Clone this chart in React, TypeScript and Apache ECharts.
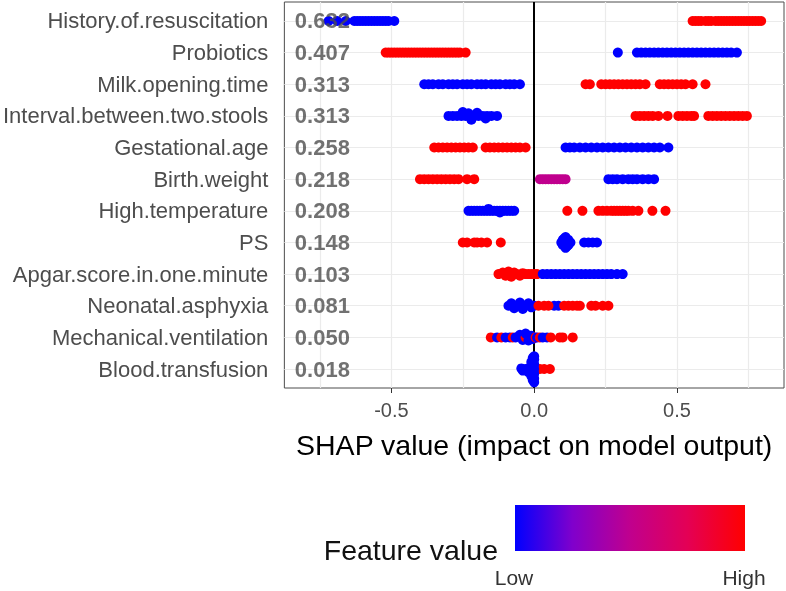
import React, { useEffect, useRef } from "react";
import * as echarts from "echarts";

const FONT = "'Liberation Sans', Arial, sans-serif";

// Features, top to bottom
const features = [
  "History.of.resuscitation",
  "Probiotics",
  "Milk.opening.time",
  "Interval.between.two.stools",
  "Gestational.age",
  "Birth.weight",
  "High.temperature",
  "PS",
  "Apgar.score.in.one.minute",
  "Neonatal.asphyxia",
  "Mechanical.ventilation",
  "Blood.transfusion",
];

// mean |SHAP| per feature
const meanAbsShap = ["0.632", "0.407", "0.313", "0.313", "0.258", "0.218", "0.208", "0.148", "0.103", "0.081", "0.050", "0.018"];

const xTickValues = [-0.5, 0, 0.5];
const xGridValues = [-0.75, -0.5, -0.25, 0.25, 0.5, 0.75];

// points: [shap value, feature value (0 low .. 1 high), vertical jitter]
const historyPts = [
  [-0.72, 0], [-0.69, 0], [-0.66, 0], [-0.63, 0], [-0.62, 0], [-0.61, 0], [-0.6, 0], [-0.59, 0], [-0.58, 0], [-0.57, 0],
  [-0.56, 0], [-0.55, 0], [-0.54, 0], [-0.53, 0], [-0.52, 0], [-0.51, 0], [-0.49, 0],
  [0.555, 1], [0.565, 1], [0.575, 1], [0.585, 1], [0.6, 1], [0.61, 1], [0.62, 1], [0.635, 1], [0.645, 1], [0.655, 1],
  [0.665, 1], [0.675, 1], [0.685, 1], [0.695, 1], [0.705, 1], [0.715, 1], [0.725, 1], [0.735, 1], [0.745, 1], [0.755, 1],
  [0.765, 1], [0.775, 1], [0.785, 1], [0.795, 1],
];
const probioticsPts = [
  [-0.52, 1], [-0.51, 1], [-0.5, 1], [-0.49, 1], [-0.48, 1], [-0.47, 1], [-0.46, 1], [-0.45, 1], [-0.44, 1], [-0.43, 1],
  [-0.42, 1], [-0.41, 1], [-0.4, 1], [-0.39, 1], [-0.38, 1], [-0.37, 1], [-0.36, 1], [-0.35, 1], [-0.34, 1], [-0.33, 1],
  [-0.32, 1], [-0.31, 1], [-0.3, 1], [-0.29, 1], [-0.28, 1], [-0.27, 1], [-0.26, 1], [-0.24, 1],
  [0.293, 0], [0.36, 0], [0.375, 0], [0.39, 0], [0.405, 0], [0.42, 0], [0.435, 0], [0.45, 0], [0.465, 0], [0.48, 0],
  [0.495, 0], [0.51, 0], [0.525, 0], [0.54, 0], [0.555, 0], [0.57, 0], [0.585, 0], [0.6, 0], [0.615, 0], [0.63, 0],
  [0.645, 0], [0.66, 0], [0.675, 0], [0.69, 0], [0.71, 0],
];
const milkPts = [
  [-0.385, 0], [-0.37, 0], [-0.355, 0], [-0.335, 0], [-0.32, 0], [-0.3, 0], [-0.285, 0], [-0.27, 0], [-0.25, 0], [-0.235, 0],
  [-0.22, 0], [-0.2, 0], [-0.185, 0], [-0.17, 0], [-0.15, 0], [-0.135, 0], [-0.12, 0], [-0.1, 0], [-0.085, 0], [-0.07, 0], [-0.05, 0],
  [0.18, 1], [0.195, 1], [0.235, 1], [0.25, 1], [0.265, 1], [0.28, 1], [0.295, 1], [0.31, 1], [0.325, 1], [0.34, 1],
  [0.355, 1], [0.37, 1], [0.39, 1], [0.44, 1], [0.455, 1], [0.47, 1], [0.485, 1], [0.5, 1], [0.515, 1], [0.53, 1], [0.555, 1], [0.6, 1],
];
const intervalPts = [
  [-0.3, 0], [-0.285, 0], [-0.27, 0], [-0.255, 0], [-0.24, 0], [-0.225, 0], [-0.21, 0], [-0.195, 0], [-0.18, 0], [-0.165, 0],
  [-0.15, 0], [-0.13, 0], [-0.25, 0, 0.12], [-0.22, 0, -0.12], [-0.2, 0, 0.1], [-0.17, 0, -0.08], [-0.23, 0, 0.08],
  [0.355, 1], [0.37, 1], [0.385, 1], [0.4, 1], [0.415, 1], [0.435, 1], [0.467, 1], [0.505, 1], [0.52, 1], [0.535, 1],
  [0.55, 1], [0.56, 1], [0.61, 1], [0.625, 1], [0.64, 1], [0.655, 1], [0.67, 1], [0.685, 1], [0.7, 1], [0.715, 1], [0.73, 1], [0.745, 1],
];
const gestationalPts = [
  [-0.35, 1], [-0.335, 1], [-0.32, 1], [-0.305, 1], [-0.29, 1], [-0.275, 1], [-0.26, 1], [-0.245, 1], [-0.23, 1], [-0.215, 1],
  [-0.17, 1], [-0.155, 1], [-0.14, 1], [-0.125, 1], [-0.11, 1], [-0.095, 1], [-0.08, 1], [-0.065, 1], [-0.05, 1], [-0.03, 1],
  [0.11, 0], [0.125, 0], [0.14, 0], [0.16, 0], [0.18, 0], [0.2, 0], [0.22, 0], [0.24, 0], [0.26, 0], [0.28, 0],
  [0.3, 0], [0.32, 0], [0.34, 0], [0.36, 0], [0.38, 0], [0.4, 0], [0.42, 0], [0.44, 0], [0.47, 0],
];
const birthWeightPts = [
  [-0.4, 1], [-0.385, 1], [-0.37, 1], [-0.355, 1], [-0.34, 1], [-0.325, 1], [-0.31, 1], [-0.295, 1], [-0.28, 1], [-0.265, 1], [-0.235, 1], [-0.21, 1],
  [0.02, 0.5], [0.03, 0.5], [0.04, 0.5], [0.05, 0.5], [0.06, 0.5], [0.07, 0.5], [0.08, 0.5], [0.09, 0.5], [0.1, 0.5], [0.11, 0.5],
  [0.26, 0], [0.275, 0], [0.29, 0], [0.31, 0], [0.33, 0], [0.345, 0], [0.36, 0], [0.38, 0], [0.4, 0], [0.42, 0],
];
const highTempPts = [
  [-0.23, 0], [-0.22, 0], [-0.21, 0], [-0.2, 0], [-0.19, 0], [-0.18, 0], [-0.17, 0], [-0.16, 0], [-0.15, 0], [-0.14, 0],
  [-0.13, 0], [-0.12, 0], [-0.11, 0], [-0.1, 0], [-0.09, 0], [-0.08, 0], [-0.07, 0], [-0.16, 0, 0.06], [-0.12, 0, -0.05],
  [0.116, 1], [0.169, 1], [0.225, 1], [0.24, 1], [0.255, 1], [0.27, 1], [0.28, 1], [0.29, 1], [0.3, 1], [0.31, 1],
  [0.32, 1], [0.33, 1], [0.345, 1], [0.365, 1], [0.414, 1], [0.46, 1],
];
const psPts = [
  [-0.25, 1], [-0.235, 1], [-0.21, 1], [-0.2, 1], [-0.185, 1], [-0.165, 1], [-0.117, 1],
  [0.11, 0, 0], [0.1, 0, 0.08], [0.12, 0, 0.08], [0.1, 0, -0.08], [0.12, 0, -0.08], [0.11, 0, 0.17], [0.11, 0, -0.17],
  [0.095, 0, 0], [0.127, 0, 0], [0.105, 0, 0.12], [0.115, 0, -0.12],
  [0.175, 0], [0.19, 0], [0.205, 0], [0.22, 0],
];
const apgarPts = [
  [-0.125, 1, 0], [-0.11, 1, 0.05], [-0.1, 1, -0.05], [-0.09, 1, 0.08], [-0.08, 1, -0.08], [-0.07, 1, 0.05], [-0.06, 1, 0],
  [-0.05, 1, -0.05], [-0.04, 1, 0.03], [-0.03, 1, 0], [-0.02, 1, 0], [-0.01, 1, 0], [0.0, 1, 0], [0.01, 1, 0],
  [0.03, 0], [0.045, 0], [0.06, 0], [0.075, 0], [0.09, 0], [0.105, 0], [0.12, 0], [0.135, 0], [0.15, 0], [0.165, 0],
  [0.18, 0], [0.195, 0], [0.21, 0], [0.225, 0], [0.24, 0], [0.255, 0], [0.27, 0], [0.29, 0], [0.31, 0],
];
const asphyxiaPts = [
  [-0.09, 0, 0], [-0.08, 0, 0.08], [-0.07, 0, -0.08], [-0.06, 0, 0], [-0.05, 0, 0.1], [-0.04, 0, -0.1], [-0.03, 0, 0],
  [-0.02, 0, 0.08], [-0.01, 0, -0.05], [0.0, 0, 0], [0.07, 0], [0.085, 0],
  [0.015, 1], [0.035, 1], [0.05, 1], [0.105, 1], [0.12, 1], [0.135, 1], [0.15, 1], [0.16, 1], [0.2, 1], [0.215, 1], [0.24, 1], [0.26, 1],
];
const ventilationPts = [
  [-0.152, 1], [-0.13, 0], [-0.115, 1], [-0.1, 0], [-0.085, 0], [-0.075, 1], [-0.065, 0], [-0.05, 0, 0.08], [-0.04, 0, -0.08],
  [-0.03, 1, 0], [-0.03, 0, 0.12], [-0.02, 0, -0.1], [-0.01, 0, 0.05], [-0.005, 0, -0.05], [0.005, 1, 0], [0.01, 0],
  [0.02, 1], [0.03, 0], [0.045, 0], [0.058, 1], [0.09, 1], [0.1, 1], [0.135, 1],
];
const transfusionPts = [
  [0.02, 1], [0.035, 1], [0.055, 1],
  [0.0, 0, 0], [-0.015, 0, 0.05], [-0.03, 0, 0], [-0.04, 0, -0.05], [-0.045, 0, 0.02], [-0.02, 0, -0.1],
  [0.0, 0, 0.15], [0.0, 0, 0.3], [0.0, 0, 0.4], [0.0, 0, -0.15], [0.0, 0, -0.3], [0.0, 0, -0.42],
  [-0.01, 0, 0.22], [-0.01, 0, -0.22], [-0.005, 0, 0.35], [-0.005, 0, -0.35],
];

const featurePoints = [
  historyPts, probioticsPts, milkPts, intervalPts, gestationalPts, birthWeightPts,
  highTempPts, psPts, apgarPts, asphyxiaPts, ventilationPts, transfusionPts,
];

const gradientColors = ["#0000FF", "#8000CC", "#C0008E", "#E40055", "#FF0000"];

export default function App() {
  const ref = useRef<HTMLDivElement>(null);
  useEffect(() => {
    if (!ref.current) return;
    const chart = echarts.init(ref.current, null, { renderer: "svg" });
    const n = features.length;
    const rows = features.map((_, i) => n - i);
    const pointData: number[][] = [];
    featurePoints.forEach((pts, i) => {
      const row = n - i;
      pts.forEach((p: number[]) => pointData.push([p[0], row + (p[2] ?? 0), p[1]]));
    });
    const meanData = rows.map((r, i) => ({ value: [-0.84, r], label: { formatter: meanAbsShap[i] } }));

    chart.setOption({
      animation: false,
      textStyle: { fontFamily: FONT },
      grid: { left: 284, right: 2, top: 2, bottom: 203, show: true, borderColor: "#4d4d4d", borderWidth: 1 },
      xAxis: {
        type: "value",
        min: -0.875,
        max: 0.875,
        axisLine: { show: false },
        axisTick: { show: true, customValues: xTickValues, length: 5, lineStyle: { color: "#333" } },
        axisLabel: {
          customValues: xTickValues,
          formatter: (v: number) => v.toFixed(1),
          fontSize: 20,
          color: "#4d4d4d",
          margin: 12,
          fontFamily: FONT,
        },
        splitLine: { show: false },
        name: "SHAP value (impact on model output)",
        nameLocation: "middle",
        nameGap: 42,
        nameTextStyle: { fontSize: 28.5, color: "#000", fontFamily: FONT },
      },
      yAxis: {
        type: "value",
        min: 0.4,
        max: 12.6,
        axisLine: { show: false },
        axisTick: { show: false },
        splitLine: { show: false },
        axisLabel: {
          customValues: rows,
          formatter: (v: number) => features[n - Math.round(v)],
          fontSize: 22,
          color: "#4d4d4d",
          margin: 16,
          fontFamily: FONT,
        },
      },
      visualMap: {
        show: false,
        type: "continuous",
        dimension: 2,
        min: 0,
        max: 1,
        seriesIndex: 2,
        inRange: { color: gradientColors },
      },
      series: [
        {
          type: "scatter",
          data: [],
          silent: true,
          z: 1,
          markLine: {
            z: 1,
            silent: true,
            symbol: "none",
            label: { show: false },
            lineStyle: { color: "#ebebeb", width: 1.2, type: "solid" },
            data: [...xGridValues.map((v) => ({ xAxis: v })), ...rows.map((r) => ({ yAxis: r }))],
          },
        },
        {
          type: "scatter",
          data: [],
          silent: true,
          z: 2,
          markLine: {
            z: 2,
            silent: true,
            symbol: "none",
            label: { show: false },
            lineStyle: { color: "#000", width: 2, type: "solid" },
            data: [{ xAxis: 0 }],
          },
        },
        {
          type: "scatter",
          symbolSize: 10,
          itemStyle: { opacity: 1 },
          data: pointData,
          z: 10,
          silent: true,
        },
        {
          type: "scatter",
          symbolSize: 1,
          itemStyle: { color: "rgba(0,0,0,0)" },
          data: meanData,
          z: 11,
          silent: true,
          label: {
            show: true,
            position: "right",
            distance: 0,
            fontSize: 22,
            fontWeight: "bold",
            color: "#4d4d4d",
            fontFamily: FONT,
          },
        },
      ],
      graphic: [
        {
          type: "rect",
          shape: { x: 515, y: 505, width: 230, height: 46 },
          style: {
            fill: new echarts.graphic.LinearGradient(0, 0, 1, 0,
              gradientColors.map((c, i) => ({ offset: i / (gradientColors.length - 1), color: c }))),
          },
        },
        {
          type: "text",
          x: 498,
          y: 550,
          style: { text: "Feature value", fontSize: 28.5, fill: "#111", align: "right", verticalAlign: "middle", fontFamily: FONT },
        },
        {
          type: "text",
          x: 514,
          y: 577,
          style: { text: "Low", fontSize: 21, fill: "#333", align: "center", verticalAlign: "middle", fontFamily: FONT },
        },
        {
          type: "text",
          x: 744,
          y: 577,
          style: { text: "High", fontSize: 21, fill: "#333", align: "center", verticalAlign: "middle", fontFamily: FONT },
        },
      ],
    });
    return () => chart.dispose();
  }, []);
  return <div ref={ref} style={{ position: "fixed", left: 0, top: 0, width: 786, height: 591 }} />;
}
